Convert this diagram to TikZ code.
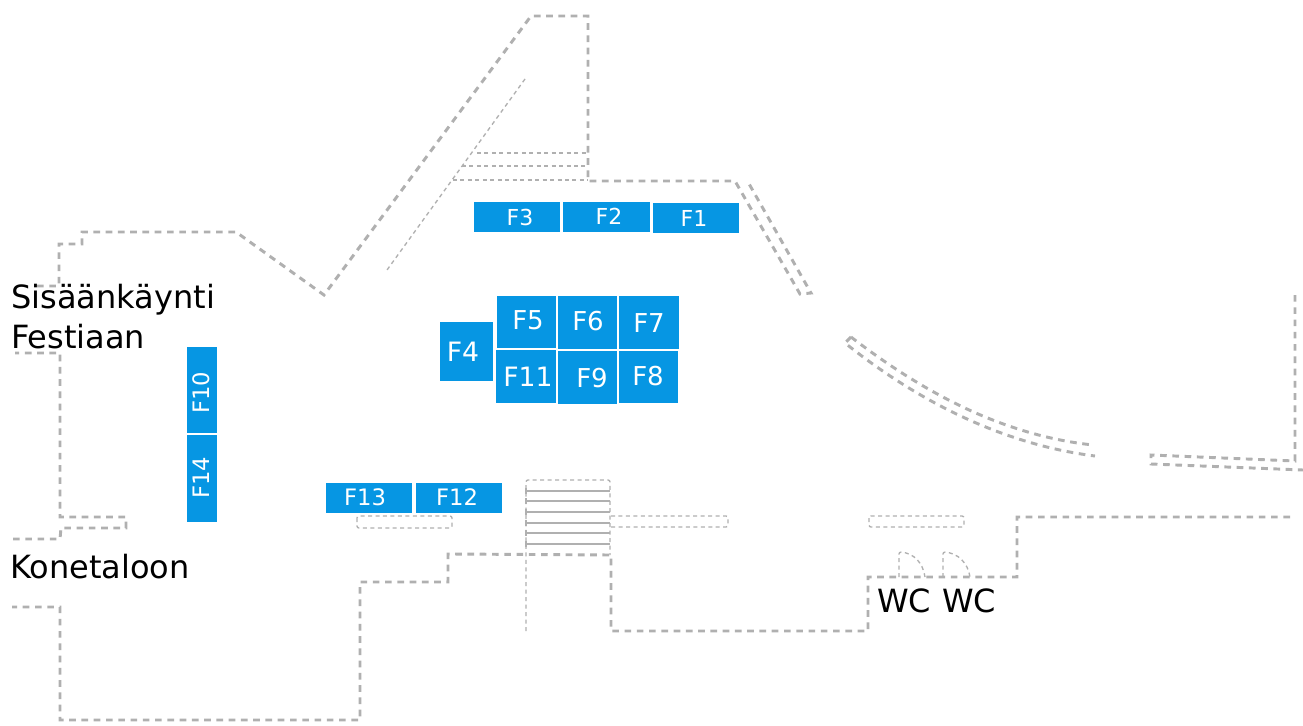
\documentclass[tikz,border=0pt]{standalone}
\usepackage{fontspec}
\setmainfont{DejaVu Sans}
\definecolor{wallgray}{HTML}{B0B0B0}
\definecolor{standblue}{HTML}{0696E3}
\tikzset{
  wall/.style={draw=wallgray,line width=2.2pt,dash pattern=on 5pt off 4.2pt},
  thinwall/.style={draw=wallgray,line width=1pt,dash pattern=on 3pt off 2.6pt,rounded corners=1.5pt},
  stairline/.style={draw=wallgray,line width=1.3pt},
  stand/.style={fill=standblue,draw=white,line width=0.7pt,dash pattern=on 2.6pt off 1.4pt,inner sep=0pt},
  standtext/.style={text=white,inner sep=0pt},
  bigtext/.style={text=black,inner sep=0pt,anchor=base west,font=\fontsize{24pt}{28pt}\selectfont},
}
% x0 y0 x1 y1 name text tx ty size(pt)
\newcommand{\standbox}[9]{%
  \node[stand,minimum width=#3*0.75pt-#1*0.75pt+0.6pt,minimum height=#4*0.75pt-#2*0.75pt+0.6pt] (#5) at ({(#1+#3)/2},{(#2+#4)/2}) {};
  \node[standtext,font=\fontsize{#9pt}{#9pt}\selectfont] (#5t) at (#7,#8) {#6};}
\begin{document}
\begin{tikzpicture}[x=0.75pt,y=-0.75pt]
\useasboundingbox[fill=white] (0,0) rectangle (1303,725);
% thick walls
\draw[wall] (37,286) -- (59,286) -- (59,244) -- (82,244) -- (82,232) -- (236,232) -- (324,295) -- (531,16) -- (588,16) -- (588,181) -- (735,181) -- (800,294) -- (811,293) -- (748,182);
\draw[wall] (851,337) -- (845,343) .. controls (915,399) and (1000,444) .. (1095,456);
\draw[wall] (851,337) .. controls (920,390) and (1000,435) .. (1093,445);
\draw[wall] (1295,295) -- (1295,461) -- (1151,455) -- (1151,464) -- (1303,470);
\draw[wall] (1290,517) -- (1017,517) -- (1017,577) -- (868,577) -- (868,631) -- (611,631) -- (611,555) -- (452,554) -- (448,554) -- (448,582) -- (360,582) -- (360,720) -- (60,720) -- (60,607) -- (12,607);
\draw[wall] (13,539) -- (60,539) -- (61,528) -- (126,528) -- (126,517) -- (60,517) -- (60,353) -- (15,353);
% thin dashed details
\draw[thinwall] (525,79) -- (387,270);
\draw[thinwall] (477,153) -- (588,153);
\draw[thinwall] (462,166) -- (588,166);
\draw[thinwall] (453,180) -- (588,180);
\draw[thinwall] (526,631) -- (526,480) -- (610,480) -- (610,555);
\draw[thinwall] (357,516) rectangle (452,528);
\draw[thinwall] (611,516) -- (728,516) -- (728,527) -- (611,527);
\draw[thinwall] (869,516) rectangle (964,527);
\draw[thinwall] (899,577) -- (899,552) .. controls (914,553) and (923,563) .. (925,577);
\draw[thinwall] (943,577) -- (943,552) .. controls (958,553) and (968,563) .. (970,577);
% stairs
\foreach \yy in {491,501,512,523,533,544} {
  \draw[stairline] (526,\yy) -- (610,\yy);
  \draw[stairline] (526,\yy-3) -- (526,\yy+3);
}
% stands
\standbox{474}{202}{560}{232}{f3}{F3}{520}{217}{16.5}
\standbox{563}{202}{650}{232}{f2}{F2}{609}{216}{16.5}
\standbox{653}{203}{739}{233}{f1}{F1}{694}{218}{16.5}
\standbox{497}{296}{556}{348}{f5}{F5}{528}{320}{19.5}
\standbox{558}{296}{617}{349}{f6}{F6}{588}{321}{19.5}
\standbox{619}{296}{679}{349}{f7}{F7}{649}{323}{19.5}
\standbox{496}{350}{556}{403}{f11}{F11}{528}{377}{20}
\standbox{558}{351}{617}{404}{f9}{F9}{592}{378}{19.5}
\standbox{619}{351}{678}{403}{f8}{F8}{648}{376}{19.5}
\standbox{440}{322}{493}{381}{f4}{F4}{463}{352}{20}
\standbox{326}{483}{412}{513}{f13}{F13}{365}{497}{17}
\standbox{416}{483}{502}{513}{f12}{F12}{457}{497}{17}
\node[stand,minimum width=23.1pt,minimum height=65.1pt] (f10) at (202,390) {};
\node[standtext,rotate=90,font=\fontsize{17pt}{17pt}\selectfont] (f10t) at (201,393) {F10};
\node[stand,minimum width=23.1pt,minimum height=65.8pt] (f14) at (202,478.5) {};
\node[standtext,rotate=90,font=\fontsize{17pt}{17pt}\selectfont] (f14t) at (201,478) {F14};
% labels
\node[bigtext] (entry1) at (11,308) {Sisäänkäynti};
\node[bigtext] (entry2) at (11,348) {Festiaan};
\node[bigtext] (kone) at (10,578) {Konetaloon};
\node[bigtext] (wc1) at (877,612) {WC};
\node[bigtext] (wc2) at (942,612) {WC};
\end{tikzpicture}
\end{document}
